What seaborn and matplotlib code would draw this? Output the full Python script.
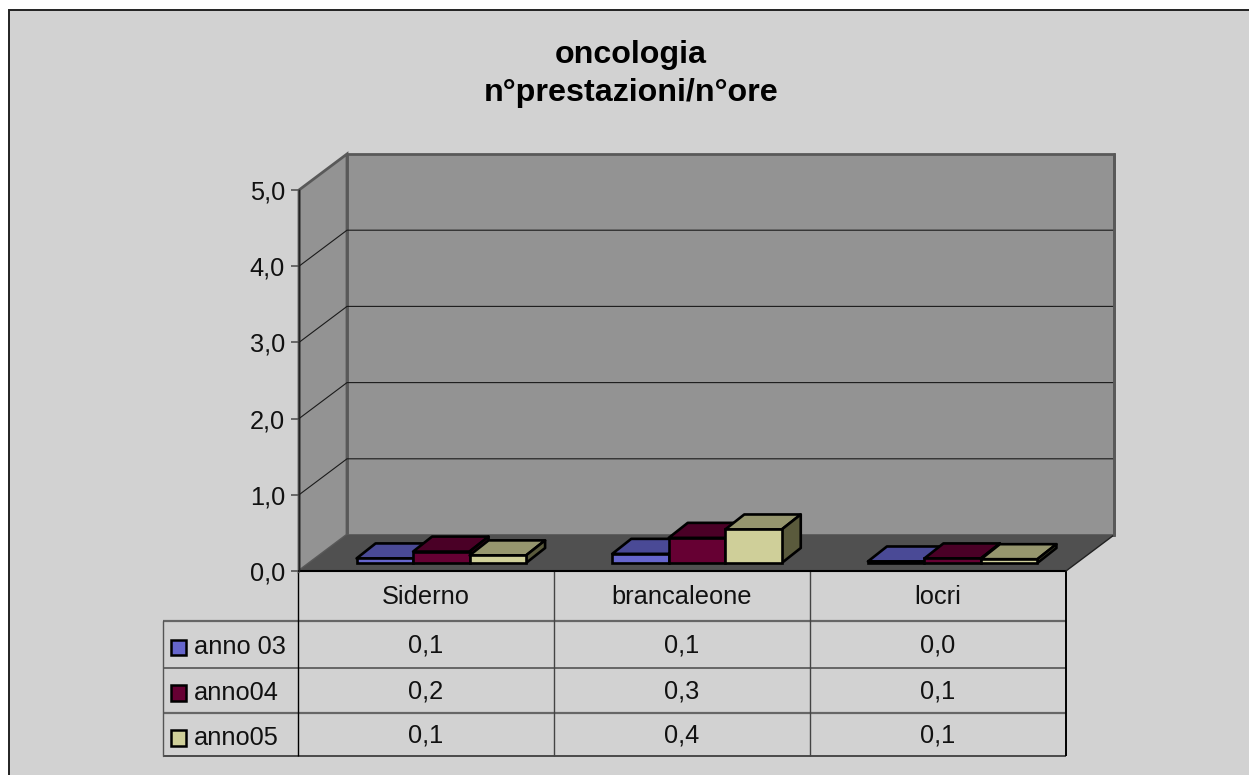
import pandas as pd
import matplotlib
matplotlib.use("Agg")
import matplotlib.pyplot as plt
from matplotlib.patches import Polygon, Rectangle
import seaborn as sns

sns.set_theme(style="white")
plt.rcParams["font.family"] = ["Liberation Sans", "DejaVu Sans"]

categories = ["Siderno", "brancaleone", "locri"]
series_names = ["anno 03", "anno04", "anno05"]
anno03 = [0.06, 0.12, 0.02]
anno04 = [0.15, 0.33, 0.06]
anno05 = [0.10, 0.44, 0.05]
anno03_labels = ["0,1", "0,1", "0,0"]
anno04_labels = ["0,2", "0,3", "0,1"]
anno05_labels = ["0,1", "0,4", "0,1"]
y_ticks = [0, 1, 2, 3, 4, 5]
y_tick_labels = ["0,0", "1,0", "2,0", "3,0", "4,0", "5,0"]

front_colors = ["#6666CC", "#660033", "#CFCF99"]
top_colors = ["#4A4A96", "#4A0026", "#96966E"]
side_colors = ["#3C3C78", "#3C001E", "#5A5A3C"]

W, H = 1249, 775
fig = plt.figure(figsize=(W / 100, H / 100), dpi=100, facecolor="white")


def px_axes(left, right, top, bottom):
    return fig.add_axes([left / W, 1 - bottom / H, (right - left) / W, (bottom - top) / H])


# overlay in pixels for chart area and the data table
bg = px_axes(0, W, 0, H)
bg.set_xlim(0, W)
bg.set_ylim(H, 0)
bg.axis("off")
# frame runs off the right and bottom edge of the picture
bg.add_patch(Rectangle((9.5, 9.5), 1260, 790, fc="#D2D2D2", ec="#222222", lw=1.4))

# table lines
for y, c, lw in [(620.5, "#666666", 1.6), (667.5, "#666666", 1.4), (713, "#666666", 1.6), (755.5, "#333333", 1.2)]:
    bg.plot([163, 1066], [y, y], color=c, lw=lw, solid_capstyle="butt")
bg.plot([163, 163], [620.5, 755.5], color="#555555", lw=1)
for x, c, lw in [(298.5, "#000000", 1), (554, "#444444", 1), (810, "#444444", 1), (1066, "#000000", 1.4)]:
    bg.plot([x, x], [571, 756], color=c, lw=lw, solid_capstyle="butt")

row_y = [646, 692, 737]
key_y = [647.5, 693, 738]
col_x = [426, 682, 938]
for x, name in zip(col_x, categories):
    bg.text(x, 597, name, ha="center", va="center", fontsize=18.3, color="#111111")
rows = [anno03_labels, anno04_labels, anno05_labels]
for y, ky, name, labels, col in zip(row_y, key_y, series_names, rows, front_colors):
    bg.add_patch(Rectangle((171, ky - 8), 15.5, 15.5, fc=col, ec="black", lw=1.8))
    bg.text(194, y + 1, name, ha="left", va="center", fontsize=18.3, color="#111111")
    for x, lab in zip(col_x, labels):
        bg.text(x, y - 1, lab, ha="center", va="center", fontsize=18.3, color="#111111")

bg.text(631, 55.5, "oncologia", ha="center", va="center", fontsize=23.2, fontweight="bold", color="black")
bg.text(631, 92.5, "n°prestazioni/n°ore", ha="center", va="center", fontsize=23.2, fontweight="bold", color="black")

# front plane of the 3d box: walls and ticks
ax = px_axes(299, 1066, 190, 571)
ax.patch.set_alpha(0)
ax.set_xlim(-0.5, 2.5)
ax.set_ylim(0, 5)
for s in ["top", "right", "bottom"]:
    ax.spines[s].set_visible(False)
ax.spines["left"].set_color("#222222")
ax.spines["left"].set_linewidth(1)
ax.set_xticks([])
ax.set_yticks(y_ticks)
ax.set_yticklabels(y_tick_labels, fontsize=18.3, color="#111111")
ax.tick_params(axis="y", left=True, length=6, width=1.2, color="#555555", pad=4)

ddx = 48 / (767 / 3)
ddy = 36 / (381 / 5)
x0, x1 = -0.5, 2.5
wall = "#939393"
edge = "#595959"
ax.add_patch(Polygon([(x0 + ddx, ddy), (x1 + ddx, ddy), (x1 + ddx, 5 + ddy), (x0 + ddx, 5 + ddy)],
                     fc=wall, ec=edge, lw=2, clip_on=False, zorder=1))
ax.add_patch(Polygon([(x0, 0), (x0 + ddx, ddy), (x0 + ddx, 5 + ddy), (x0, 5)],
                     fc=wall, ec=edge, lw=2, clip_on=False, zorder=1))
ax.add_patch(Polygon([(x0, 0), (x1, 0), (x1 + ddx, ddy), (x0 + ddx, ddy)],
                     fc="#505050", ec="none", clip_on=False, zorder=2))
ax.plot([x0, x1], [0, 0], color="black", lw=1.5, clip_on=False, zorder=3)
ax.plot([x1, x1 + ddx], [0, ddy], color="#222222", lw=1, clip_on=False, zorder=3)
ax.plot([x1 + ddx, x1 + ddx], [ddy, 5 + ddy], color=edge, lw=2, clip_on=False, zorder=3)
ax.plot([x0, x0], [0, 5], color="#222222", lw=1, clip_on=False, zorder=3)
for v in y_ticks[1:-1]:
    ax.plot([x0, x0 + ddx, x1 + ddx], [v, v + ddy, v + ddy], color="#1a1a1a", lw=0.8, clip_on=False, zorder=2)

# bars sit a little behind the front plane
df = pd.DataFrame({
    "site": categories * 3,
    "serie": [n for n in series_names for _ in categories],
    "value": anno03 + anno04 + anno05,
})
bx = px_axes(299 + 14.5, 1066 + 14.5, 182, 563)
bx.patch.set_alpha(0)
sns.barplot(data=df, x="site", y="value", hue="serie", palette=front_colors, order=categories,
            hue_order=series_names, width=0.663, gap=0, saturation=1, legend=False, ax=bx,
            edgecolor="black", linewidth=1.9, errorbar=None)
bx.set_xlim(-0.5, 2.5)
bx.set_ylim(0, 5)
bx.axis("off")

bar_dx = 19 / (767 / 3)
bar_dy = 15 / (381 / 5)
bars = [p for p in bx.patches if p.get_width() > 0]
colors_idx = [i for i in range(3) for _ in categories]
z = 5
for p, i in sorted(zip(bars, colors_idx), key=lambda t: t[0].get_x()):
    x = p.get_x()
    w = p.get_width()
    h = p.get_height()
    p.set_clip_on(False)
    p.set_zorder(z + 2)
    bx.add_patch(Polygon([(x, h), (x + w, h), (x + w + bar_dx, h + bar_dy), (x + bar_dx, h + bar_dy)],
                         fc=top_colors[i], ec="black", lw=1.9, joinstyle="round", clip_on=False, zorder=z))
    bx.add_patch(Polygon([(x + w, 0), (x + w + bar_dx, bar_dy), (x + w + bar_dx, h + bar_dy), (x + w, h)],
                         fc=side_colors[i], ec="black", lw=1.9, joinstyle="round", clip_on=False, zorder=z + 1))
    z += 3

fig.savefig("out.png", dpi=100, facecolor="white")
